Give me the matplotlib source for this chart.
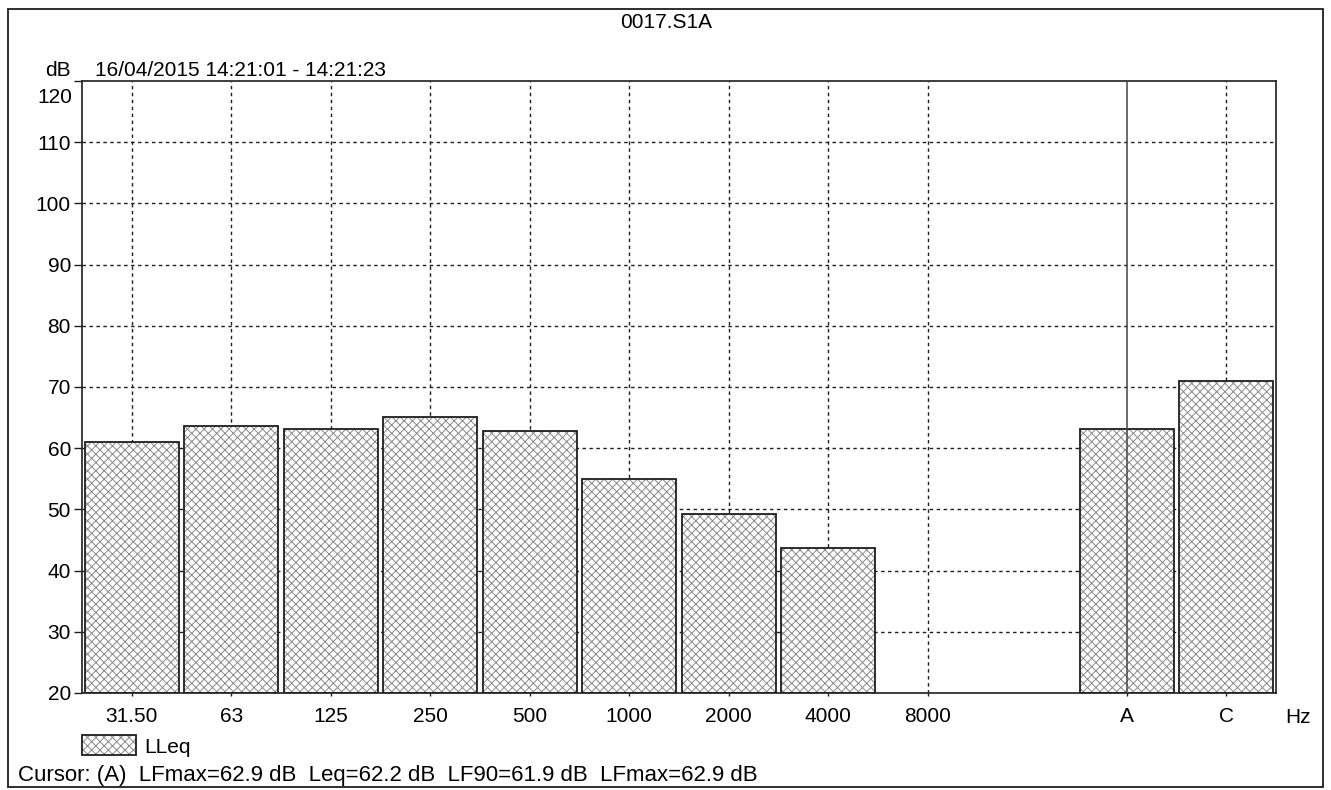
import numpy as np
import matplotlib
matplotlib.use('Agg')
from matplotlib import pyplot as plt
from matplotlib.patches import Rectangle
from matplotlib.legend_handler import HandlerTuple

plt.rcParams['font.family'] = ['Liberation Sans', 'DejaVu Sans']
plt.rcParams['font.size'] = 15
plt.rcParams['hatch.linewidth'] = 0.7

# band labels (blank slot between 8000 and the A/C totals)
bands = ['31.50', '63', '125', '250', '500', '1000', '2000', '4000', '8000', '', 'A', 'C']
lleq = [61.0, 63.6, 63.1, 65.1, 62.8, 55.0, 49.2, 43.7, np.nan, np.nan, 63.1, 71.0]
y_ticks = [20, 30, 40, 50, 60, 70, 80, 90, 100, 110, 120]
title = '0017.S1A'
period = '16/04/2015 14:21:01 - 14:21:23'
cursor_txt = 'Cursor: (A)  LFmax=62.9 dB  Leq=62.2 dB  LF90=61.9 dB  LFmax=62.9 dB'
cursor_band = 'A'

ink = '#1e1e1e'
W, H = 1331, 790
fig = plt.figure(figsize=(W / 100, H / 100), dpi=100)
ax = fig.add_axes([82 / W, 1 - 693 / H, (1276 - 82) / W, (693 - 81) / H])

x = np.arange(len(bands))
heights = np.array(lleq) - 20

# grid first, bars cover it
for xi, b in zip(x, bands):
    if b == '' or b == cursor_band:
        continue
    ax.axvline(xi, color=ink, lw=1, ls=(0, (2.5, 2.5)), zorder=1)
for yv in y_ticks[1:-1]:
    ax.axhline(yv, color=ink, lw=1, ls=(0, (2.5, 2.5)), zorder=1)

hatch_bars = ax.bar(x, heights, bottom=20, width=0.94, color='white', edgecolor='#8a8a8a',
                    hatch='xxxx', lw=0, zorder=2)
edge_bars = ax.bar(x, heights, bottom=20, width=0.94, fill=False, edgecolor=ink, lw=1.3, zorder=3)

# cursor line on A
ax.axvline(bands.index(cursor_band), color='#444444', lw=1.1, zorder=4)

ax.set_xlim(-0.5, len(bands) - 0.5)
ax.set_ylim(20, 120)
ax.set_yticks(y_ticks)
ax.set_yticklabels([str(v) if v != 120 else '' for v in y_ticks])
ax.annotate('120', xy=(0, 120), xycoords=ax.get_yaxis_transform(), xytext=(-7, -12),
            textcoords='offset points', ha='right', va='center')
shown = [i for i, b in enumerate(bands) if b]
ax.set_xticks(shown)
ax.set_xticklabels([bands[i] for i in shown])
ax.tick_params(axis='y', length=6, width=1, color=ink, pad=2)
ax.tick_params(axis='x', length=2, width=1, color=ink, pad=8)
ax.text(len(bands) - 0.28, -0.024, 'Hz', transform=ax.get_xaxis_transform(),
        ha='center', va='top', clip_on=False)
for s in ax.spines.values():
    s.set_color(ink)
    s.set_linewidth(1.2)

fig.text(666 / W, 1 - 22 / H, title, ha='center', va='center')
fig.text(71 / W, 1 - 71 / H, 'dB', ha='right', va='center')
fig.text(95 / W, 1 - 71 / H, period, ha='left', va='center')
fig.text(18 / W, 1 - 776 / H, cursor_txt, ha='left', va='center', fontsize=16)

fig.legend([(hatch_bars[0], edge_bars[0])], ['LLeq'], handler_map={tuple: HandlerTuple(ndivide=1)},
           loc='center left', bbox_to_anchor=(82 / W, 1 - 746 / H), frameon=False,
           handlelength=2.6, handleheight=1.1, handletextpad=0.4, borderpad=0, borderaxespad=0)

fig.add_artist(Rectangle((8 / W, 1 - 787 / H), (1323 - 8) / W, (787 - 9) / H,
                         transform=fig.transFigure, fill=False, edgecolor=ink, lw=1.3))

fig.savefig('out.png', dpi=100)
